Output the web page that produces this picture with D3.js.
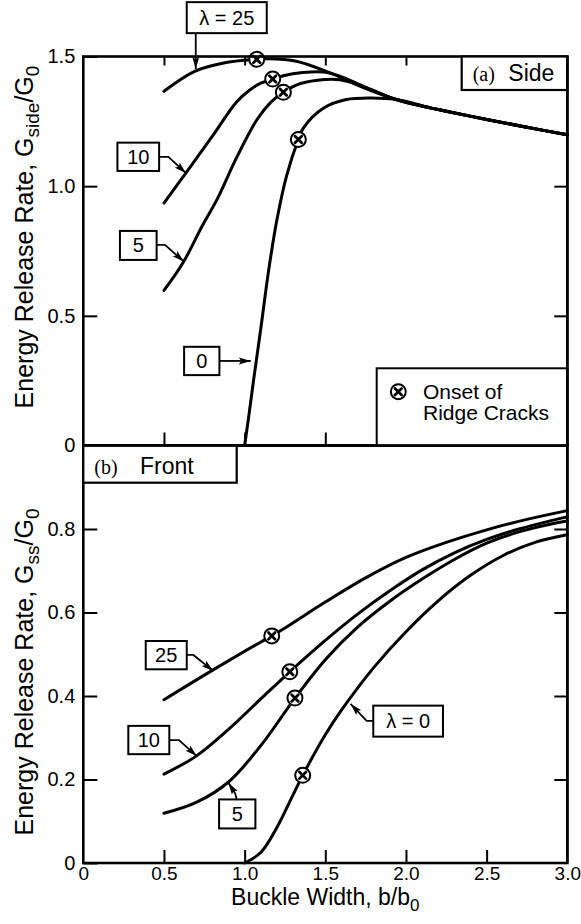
<!DOCTYPE html>
<html>
<head>
<meta charset="utf-8">
<script src="https://cdn.jsdelivr.net/npm/d3@7"></script>
<style>
  body { margin: 0; background: #fff; }
  svg text { font-family: "Liberation Sans", Arial, Helvetica, sans-serif; fill: #000; }
</style>
</head>
<body>
<svg id="chart" width="581" height="924"></svg>
<script>
// ---- tick values ----
const widthTicks = [0, 0.5, 1.0, 1.5, 2.0, 2.5, 3.0];
const innerWidthTicks = [0.5, 1.0, 1.5, 2.0, 2.5];
const sideTicks = [0, 0.5, 1.0, 1.5];
const frontTicks = [0, 0.2, 0.4, 0.6, 0.8];

// ---- (a) side energy release rate, [b/b0, G_side/G0] ----
const side25 = [[0.5, 1.366], [0.69, 1.443], [0.87, 1.475], [1.075, 1.489], [1.14, 1.491], [1.32, 1.482],
  [1.53, 1.437], [1.74, 1.379], [1.94, 1.334], [2.15, 1.302], [2.25, 1.289], [2.5, 1.257], [2.75, 1.227], [3.0, 1.198]];
const side10 = [[0.5, 0.935], [0.64, 1.054], [0.81, 1.202], [0.95, 1.325], [1.03, 1.370], [1.1, 1.397], [1.174, 1.413],
  [1.24, 1.426], [1.36, 1.438], [1.49, 1.440], [1.59, 1.424], [1.74, 1.384], [1.94, 1.334], [2.15, 1.302], [2.25, 1.289],
  [2.5, 1.257], [2.75, 1.227], [3.0, 1.198]];
const side5 = [[0.5, 0.598], [0.62, 0.707], [0.74, 0.850], [0.83, 0.950], [0.95, 1.110], [1.075, 1.255], [1.16, 1.322],
  [1.24, 1.362], [1.32, 1.390], [1.45, 1.408], [1.59, 1.410], [1.74, 1.383], [1.94, 1.334], [2.15, 1.302], [2.25, 1.289],
  [2.5, 1.257], [2.75, 1.227], [3.0, 1.198]];
const side0 = [[1.0, 0], [1.025, 0.11], [1.055, 0.25], [1.1, 0.45], [1.15, 0.68], [1.2, 0.87], [1.26, 1.04], [1.333, 1.18],
  [1.364, 1.224], [1.49, 1.301], [1.63, 1.334], [1.78, 1.340], [1.94, 1.334], [2.15, 1.302], [2.25, 1.289], [2.5, 1.257],
  [2.75, 1.227], [3.0, 1.198]];
const sideOnset = [[1.075, 1.489], [1.174, 1.413], [1.24, 1.362], [1.333, 1.18]];

// ---- (b) front (steady-state) energy release rate, [b/b0, G_ss/G0] ----
const front25 = [[0.5, 0.391], [0.75, 0.450], [1.0, 0.507], [1.168, 0.544], [1.25, 0.563], [1.5, 0.625], [1.75, 0.683],
  [2.0, 0.732], [2.25, 0.768], [2.5, 0.798], [2.75, 0.823], [3.0, 0.844]];
const front10 = [[0.5, 0.213], [0.7, 0.256], [0.9, 0.320], [1.1, 0.393], [1.28, 0.458], [1.5, 0.533], [1.7, 0.596],
  [1.9, 0.652], [2.1, 0.702], [2.3, 0.743], [2.5, 0.775], [2.7, 0.800], [2.9, 0.820], [3.0, 0.829]];
const front5 = [[0.5, 0.119], [0.7, 0.145], [0.9, 0.194], [1.1, 0.281], [1.312, 0.395], [1.5, 0.487], [1.7, 0.565],
  [1.9, 0.627], [2.1, 0.680], [2.3, 0.727], [2.5, 0.766], [2.7, 0.793], [2.9, 0.812], [3.0, 0.819]];
const front0 = [[1.0, 0], [1.1, 0.025], [1.2, 0.085], [1.3, 0.163], [1.36, 0.21], [1.5, 0.307], [1.6, 0.366], [1.8, 0.468],
  [2.0, 0.554], [2.2, 0.628], [2.4, 0.689], [2.6, 0.736], [2.8, 0.768], [3.0, 0.786]];
const frontOnset = [[1.168, 0.544], [1.28, 0.458], [1.312, 0.395], [1.36, 0.21]];

// ---- layout ----
const left = 83.3, right = 567.3;
const topY = 56.5, midY = 445.5, botY = 863;

const svg = d3.select("#chart");
const x = d3.scaleLinear().domain([0, 3]).range([left, right]);
const ySide = d3.scaleLinear().domain([0, 1.5]).range([midY, topY]);
const yFront = d3.scaleLinear().domain([0, 1.0]).range([botY, midY]);

const fmt = d => d === 0 ? "0" : d3.format(".1f")(d);

// arrowhead
svg.append("defs").append("marker")
  .attr("id", "head").attr("viewBox", "0 0 12 8").attr("refX", 12).attr("refY", 4)
  .attr("markerWidth", 12).attr("markerHeight", 8).attr("markerUnits", "userSpaceOnUse")
  .attr("orient", "auto")
  .append("path").attr("d", "M0,0.5 L12,4 L0,7.5 L2.5,4 Z").attr("fill", "#000");

function styleAxis(g, size = 20) {
  g.select(".domain").remove();
  g.selectAll(".tick line").attr("stroke", "#000").attr("stroke-width", 2);
  g.selectAll(".tick text").style("font-size", size + "px").attr("fill", "#000");
}

function panel(y, yTicks, series) {
  const g = svg.append("g");
  g.append("g").attr("transform", `translate(0,${y.range()[0]})`)
    .call(d3.axisBottom(x).tickValues(innerWidthTicks).tickSize(-13).tickFormat("")).call(styleAxis);
  g.append("g").attr("transform", `translate(${left},0)`)
    .call(d3.axisLeft(y).tickValues(yTicks).tickSize(-14).tickPadding(8).tickFormat(fmt)).call(styleAxis);
  g.append("g").attr("transform", `translate(${right},0)`)
    .call(d3.axisRight(y).tickValues(yTicks.filter(v => v > 0)).tickSize(-13).tickFormat("")).call(styleAxis);

  const line = d3.line().x(d => x(d[0])).y(d => y(d[1])).curve(d3.curveCatmullRom.alpha(0.5));
  g.selectAll("path.curve").data(series).join("path")
    .attr("class", "curve").attr("d", line)
    .attr("fill", "none").attr("stroke", "#000").attr("stroke-width", 3).attr("stroke-linecap", "round");
  return g;
}

function onsetMark(parent, cx, cy) {
  const m = parent.append("g").attr("transform", `translate(${cx},${cy})`);
  m.append("circle").attr("r", 7.5).attr("fill", "#fff").attr("stroke", "#000").attr("stroke-width", 2);
  m.append("path").attr("d", "M-3.3,-3.3L3.3,3.3M-3.3,3.3L3.3,-3.3")
    .attr("stroke", "#000").attr("stroke-width", 2.8).attr("stroke-linecap", "round");
}

// ---- top panel (a) ----
const gSide = panel(ySide, sideTicks, [side25, side10, side5, side0]);
gSide.append("g").attr("transform", `translate(0,${topY})`)
  .call(d3.axisTop(x).tickValues(innerWidthTicks).tickSize(-9).tickFormat("")).call(styleAxis);
sideOnset.forEach(d => onsetMark(gSide, x(d[0]), ySide(d[1])));

// ---- bottom panel (b) ----
const gFront = panel(yFront, frontTicks, [front25, front10, front5, front0]);
gFront.append("g").attr("transform", `translate(0,${botY})`)
  .call(d3.axisBottom(x).tickValues(widthTicks).tickSize(0).tickPadding(3).tickFormat(fmt))
  .call(g => styleAxis(g, 19));
frontOnset.forEach(d => onsetMark(gFront, x(d[0]), yFront(d[1])));

// frames
[[topY, midY], [midY, botY]].forEach(([a, b]) => {
  svg.append("rect").attr("x", left).attr("y", a).attr("width", right - left).attr("height", b - a)
    .attr("fill", "none").attr("stroke", "#000").attr("stroke-width", 2.6);
});

// ---- labelled callouts: tip in data units, box and elbow offsets in px ----
function callout(y, tip, label, box, elbow) {
  const tx = x(tip[0]), ty = y(tip[1]);
  const pts = elbow.map(p => [tx + p[0], ty + p[1]]).concat([[tx, ty]]);
  svg.append("path").attr("d", d3.line()(pts)).attr("fill", "none").attr("stroke", "#000")
    .attr("stroke-width", 1.8).attr("marker-end", "url(#head)");
  const bx = tx + box.dx, by = ty + box.dy;
  svg.append("rect").attr("x", bx - box.w / 2).attr("y", by - box.h / 2).attr("width", box.w).attr("height", box.h)
    .attr("fill", "#fff").attr("stroke", "#000").attr("stroke-width", 2);
  svg.append("text").attr("x", bx).attr("y", by + 7).attr("text-anchor", "middle")
    .style("font-size", "20px").text(label);
}

callout(ySide, [0.697, 1.452], "λ = 25", { dx: 31, dy: -51.3, w: 80, h: 31 }, [[0, -36]]);
callout(ySide, [0.637, 1.05], "10", { dx: -47.8, dy: -16.4, w: 41.7, h: 28.3 }, [[-27, -16.3], [-17.7, -16.3]]);
callout(ySide, [0.624, 0.709], "5", { dx: -45.7, dy: -16.2, w: 36.7, h: 29 }, [[-27.3, -16.7], [-19, -16.7]]);
callout(ySide, [1.038, 0.326], "0", { dx: -49, dy: 0, w: 35.3, h: 28.3 }, [[-31.4, 0]]);

callout(yFront, [0.806, 0.46], "25", { dx: -47.1, dy: -15.8, w: 41, h: 28.3 }, [[-26.6, -16], [-20, -16]]);
callout(yFront, [0.703, 0.256], "10", { dx: -47.9, dy: -16.1, w: 41, h: 28.3 }, [[-27.4, -16], [-17.7, -16]]);
callout(yFront, [0.899, 0.192], "5", { dx: 8.9, dy: 31.1, w: 36.3, h: 29 }, [[8.4, 16.6], [6.7, 10.3]]);
callout(yFront, [1.657, 0.381], "λ = 0", { dx: 57.5, dy: 17.2, w: 69.7, h: 31 }, [[22.6, 17], [16, 17]]);

// ---- panel tags ----
function tag(x0, y0, w, h, letter, name, nameX) {
  svg.append("rect").attr("x", x0).attr("y", y0).attr("width", w).attr("height", h)
    .attr("fill", "#fff").attr("stroke", "#000").attr("stroke-width", 2.2);
  svg.append("text").attr("x", x0 + 11).attr("y", y0 + h - 9)
    .style("font-family", "'Liberation Serif', 'Times New Roman', serif").style("font-size", "20px").text(letter);
  svg.append("text").attr("x", x0 + nameX).attr("y", y0 + h - 9).style("font-size", "23px").text(name);
}
tag(461.7, topY, right - 461.7, 33.5, "(a)", "Side", 46.6);
tag(left, midY, 153.4, 37.2, "(b)", "Front", 56.7);

// ---- legend ----
svg.append("rect").attr("x", 376.7).attr("y", 368.3).attr("width", right - 376.7).attr("height", midY - 368.3)
  .attr("fill", "#fff").attr("stroke", "#000").attr("stroke-width", 2);
onsetMark(svg, 398.3, 391.7);
svg.append("text").attr("x", 423).attr("y", 399).style("font-size", "21px").text("Onset of");
svg.append("text").attr("x", 423).attr("y", 420).style("font-size", "21px").text("Ridge Cracks");
// shared frame edges drawn over the legend box
svg.append("line").attr("x1", left).attr("x2", right).attr("y1", midY).attr("y2", midY)
  .attr("stroke", "#000").attr("stroke-width", 2.6);
svg.append("line").attr("x1", right).attr("x2", right).attr("y1", topY).attr("y2", botY)
  .attr("stroke", "#000").attr("stroke-width", 2.6);

// ---- axis titles ----
function yTitle(cy, sub) {
  const t = svg.append("text").attr("transform", `translate(33,${cy}) rotate(-90)`)
    .attr("text-anchor", "middle").style("font-size", "25px");
  t.append("tspan").text("Energy Release Rate, G");
  t.append("tspan").attr("dy", 6).style("font-size", "19px").text(sub);
  t.append("tspan").attr("dy", -6).text("/G");
  t.append("tspan").attr("dy", 6).style("font-size", "19px").text("0");
}
yTitle(237, "side");
yTitle(672, "ss");

const xt = svg.append("text").attr("x", x(1.5)).attr("y", 905).attr("text-anchor", "middle").style("font-size", "23px");
xt.append("tspan").text("Buckle Width, b/b");
xt.append("tspan").attr("dy", 6).style("font-size", "17px").text("0");
</script>
</body>
</html>
